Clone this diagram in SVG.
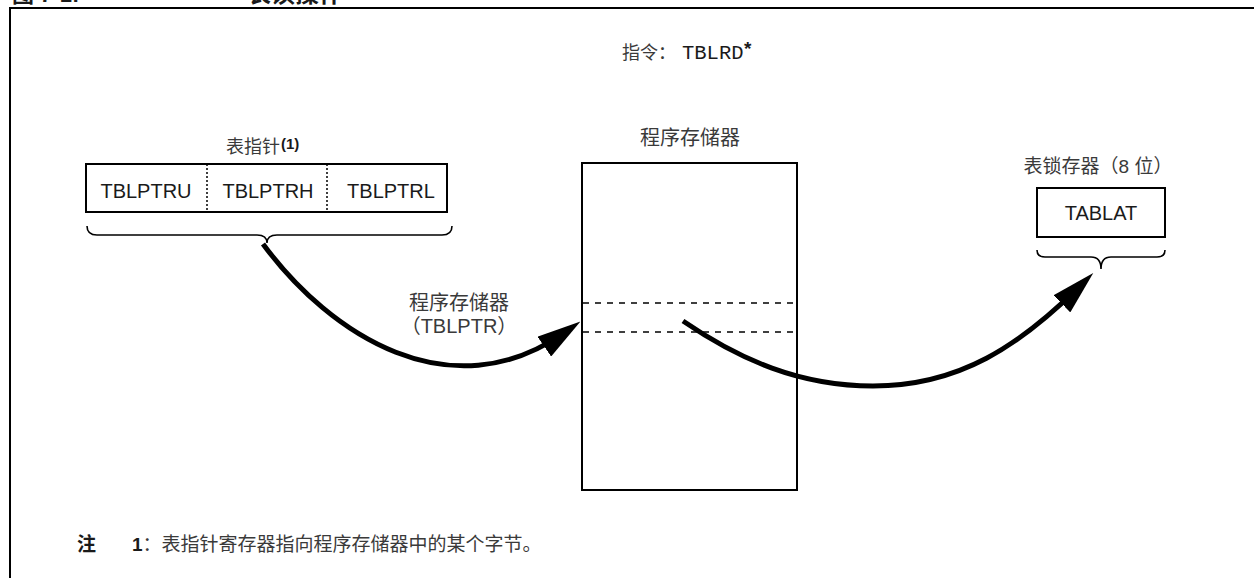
<svg xmlns="http://www.w3.org/2000/svg" width="1254" height="578" viewBox="0 0 1254 578">
<style>
.t{font-family:"Liberation Sans","Noto Sans CJK SC",Arial,sans-serif;fill:#1a1a1a}
.cj{font-family:"Liberation Sans","Noto Sans CJK SC",sans-serif;fill:#3a3a3a}
.b{font-weight:bold}
.box{fill:#fff;stroke:#000;stroke-width:2}
.brace{fill:none;stroke:#000;stroke-width:1.6}
.arr{fill:none;stroke:#000;stroke-width:5}
.dot{stroke:#000;stroke-width:1.5;stroke-dasharray:2,2}
.dash{stroke:#000;stroke-width:1.5;stroke-dasharray:6,6}
</style>
<defs>
<marker id="ah" viewBox="0 0 44 24" refX="24" refY="12" markerWidth="44" markerHeight="24" markerUnits="userSpaceOnUse" orient="auto">
<path d="M0,0 L44,12 L0,24 z" fill="#000"/>
</marker>
</defs>
<rect width="1254" height="578" fill="#fff"/>
<g id="frame">
<path d="M10,578 L10,8 L1254,8" fill="none" stroke="#000" stroke-width="2"/>
<text class="t b" x="12" y="2" font-size="22">图 7-1:</text>
<text class="t b" x="247" y="2" font-size="24">表读操作</text>
</g>
<g id="instruction">
<text class="cj" x="622" y="59" font-size="18">指令：</text>
<text x="682" y="59" font-size="20.5" font-family="'Liberation Mono','Courier New',monospace" fill="#1a1a1a">TBLRD</text>
<text class="t b" x="744" y="55" font-size="19">*</text>
</g>
<g id="table-pointer">
<text class="cj" x="226" y="153" font-size="18">表指针</text>
<text class="t b" x="281" y="149" font-size="15">(1)</text>
<rect class="box" x="86" y="164" width="361" height="48"/>
<line class="dot" x1="207" y1="164" x2="207" y2="212"/>
<line class="dot" x1="327" y1="164" x2="327" y2="212"/>
<text class="t" x="146" y="198" font-size="20" text-anchor="middle">TBLPTRU</text>
<text class="t" x="268" y="198" font-size="20" text-anchor="middle">TBLPTRH</text>
<text class="t" x="391" y="198" font-size="20" text-anchor="middle">TBLPTRL</text>
<path class="brace" d="M87,226 Q87,235 97,235 L257,235 Q267,235 267,243 Q267,235 277,235 L442,235 Q452,235 452,226"/>
</g>
<g id="program-memory">
<text class="cj" x="690" y="145" font-size="20" text-anchor="middle">程序存储器</text>
<rect class="box" x="582" y="163" width="215" height="327"/>
<line class="dash" x1="583" y1="303" x2="797" y2="303"/>
<line class="dash" x1="583" y1="332" x2="797" y2="332"/>
</g>
<g id="table-latch">
<text class="cj" x="1098" y="173" font-size="19" text-anchor="middle">表锁存器（8 位）</text>
<rect class="box" x="1037" y="188" width="128" height="49"/>
<text class="t" x="1101" y="220" font-size="20" text-anchor="middle">TABLAT</text>
<path class="brace" d="M1037,250 Q1037,257 1045,257 L1091,257 Q1101,257 1101,269 Q1101,257 1111,257 L1157,257 Q1165,257 1165,250"/>
</g>
<g id="connectors">
<path class="arr" d="M263,244 C330,335 450,412 564,333" marker-end="url(#ah)"/>
<path class="arr" d="M683,321 C740,360 800,386 873,386 C960,386 1020,345 1079,287" marker-end="url(#ah)"/>
<text class="cj" x="459" y="310" font-size="20" text-anchor="middle">程序存储器</text>
<text class="cj" x="459" y="333" font-size="20" text-anchor="middle">（TBLPTR）</text>
</g>
<g id="note">
<text class="t b" x="77" y="551" font-size="19">注</text>
<text class="cj" x="132" y="551" font-size="19"><tspan class="b" fill="#1a1a1a">1</tspan>：表指针寄存器指向程序存储器中的某个字节。</text>
</g>
</svg>
